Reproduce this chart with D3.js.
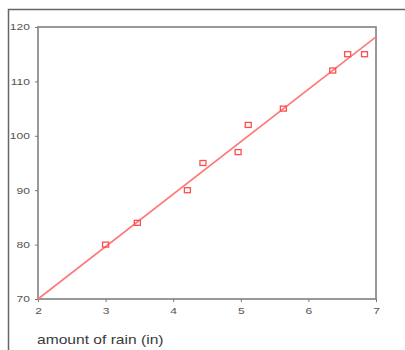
<!DOCTYPE html>
<html><head><meta charset="utf-8">
<script src="https://cdn.jsdelivr.net/npm/d3@7"></script>
<style>
html,body{margin:0;padding:0;background:#fff;}
svg{display:block;font-family:"Liberation Sans",Arial,sans-serif;}
</style></head>
<body>
<script>
const rainX = [3.0, 3.47, 4.21, 4.44, 4.96, 5.11, 5.63, 6.36, 6.58, 6.83];
const valueY = [80, 84, 90, 95, 97, 102, 105, 112, 115, 115];
const fitX = [2, 7];
const fitY = [70, 118.2];
const xTicks = [2, 3, 4, 5, 6, 7];
const yTicks = [70, 80, 90, 100, 110, 120];
const xTitle = "amount of rain (in)";

const W = 405, H = 350;
const SX = 1.3; // horizontal text stretch seen in the reference
const svg = d3.select("body").append("svg").attr("width", W).attr("height", H);

// outer frame
svg.append("path").attr("d", "M8.5,360 V9.5 H420").attr("fill","none").attr("stroke","#666").attr("stroke-width",1.5);

const L = 38, R = 376, T = 27, B = 299;
const x = d3.scaleLinear().domain([2,7]).range([L,R]);
const y = d3.scaleLinear().domain([70,120]).range([B,T]);

// plot box
svg.append("rect").attr("x",L).attr("y",T).attr("width",R-L).attr("height",B-T)
  .attr("fill","none").attr("stroke","#888").attr("stroke-width",1.7);

const xAxis = svg.append("g").attr("transform",`translate(0,${B})`)
  .call(d3.axisBottom(x).tickValues(xTicks).tickSize(3).tickPadding(3).tickFormat(d3.format("d")));
const yAxis = svg.append("g").attr("transform",`translate(${L},0)`)
  .call(d3.axisLeft(y).tickValues(yTicks).tickSize(3).tickPadding(5).tickFormat(d3.format("d")));
[xAxis,yAxis].forEach(g=>{
  g.select(".domain").remove();
  g.selectAll("line").attr("stroke","#777").attr("stroke-width",1);
  g.selectAll("text").attr("fill","#555").attr("font-size",9.3)
    .attr("font-family","Liberation Sans, Arial, sans-serif");
});
yAxis.selectAll("text").attr("x", -8 / SX).attr("transform", `scale(${SX},1)`);
xAxis.selectAll("text").attr("transform", `scale(${SX},1)`).attr("dy","0.95em");

// fit line
svg.append("line")
  .attr("x1",x(fitX[0])).attr("y1",y(fitY[0]))
  .attr("x2",x(fitX[1])).attr("y2",y(fitY[1]))
  .attr("stroke","#ff7878").attr("stroke-width",1.6);

// points
const pts = rainX.map((v,i)=>({x:v,y:valueY[i]}));
svg.append("g").selectAll("rect").data(pts).join("rect")
  .attr("x",d=>x(d.x)-3).attr("y",d=>y(d.y)-2.5)
  .attr("width",6).attr("height",5)
  .attr("fill","none").attr("stroke","#ff4d4d").attr("stroke-width",1.3);

svg.append("text").attr("transform",`translate(37,344) scale(${SX},1)`).attr("fill","#3a3a3a")
  .attr("font-size",12).text(xTitle);
</script>
</body></html>
